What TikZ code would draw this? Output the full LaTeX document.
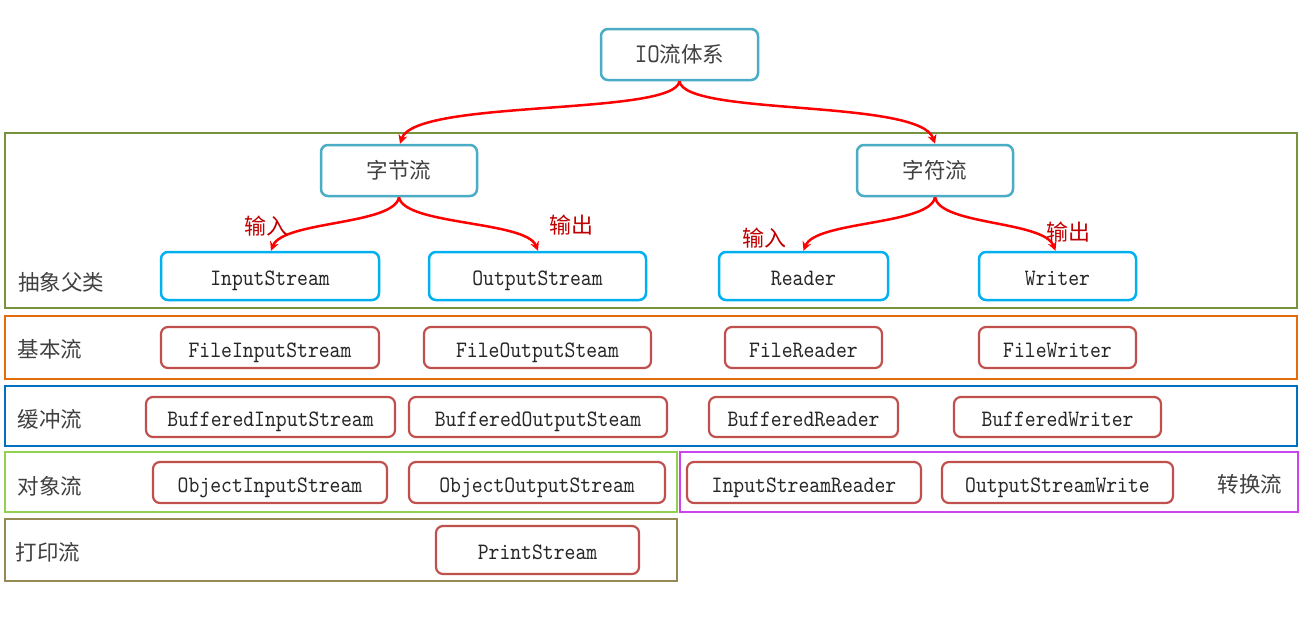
\documentclass[tikz,border=0pt]{standalone}
\usepackage{fontspec}
\setmonofont[FakeStretch=0.88]{lmmono10-regular.otf}
\newfontfamily\cjk{Noto Sans CJK SC}
\usetikzlibrary{arrows.meta}
\definecolor{teal}{HTML}{4BACC6}
\definecolor{cyanb}{HTML}{00B0F0}
\definecolor{redb}{HTML}{C0504D}
\definecolor{fgreen}{HTML}{77933C}
\definecolor{forange}{HTML}{E46C0A}
\definecolor{fblue}{HTML}{0070C0}
\definecolor{flgreen}{HTML}{92D050}
\definecolor{fpurple}{HTML}{CC44EE}
\definecolor{folive}{HTML}{948A54}
\definecolor{lblred}{HTML}{C00000}
\definecolor{txtgray}{HTML}{404040}
\tikzset{
  box/.style={draw, rounded corners=7pt, line width=2.5pt, inner sep=0pt, fill=white,
    text height=19pt, text depth=0pt, text=black!85,
    font=\ttfamily\fontsize{23.5}{26}\selectfont},
  topbox/.style={draw=teal, rounded corners=7pt, line width=2.5pt, inner sep=0pt, fill=white,
    font=\cjk\fontsize{21.5}{24}\selectfont, text=txtgray},
  absbox/.style={box, draw=cyanb, minimum height=48pt},
  impbox/.style={box, draw=redb, line width=2.2pt},
  frame/.style={line width=2.5pt},
  catlbl/.style={font=\cjk\fontsize{21.5}{24}\selectfont, text=txtgray, inner sep=0pt},
  arrlbl/.style={font=\cjk\fontsize{22}{24}\selectfont, text=lblred, inner sep=0pt},
  arr/.style={draw=red, line width=2.5pt, -{Stealth[length=9pt,width=9pt]}}
}
\begin{document}
\begin{tikzpicture}[x=1pt,y=-1pt]
\fill[white] (0,0) rectangle (1307,640);
\useasboundingbox (0,0) rectangle (1307,640);
% frames
\draw[frame, fgreen] (5,133) rectangle (1297,308);
\draw[frame, forange] (5,316) rectangle (1297,379);
\draw[frame, fblue] (5,386) rectangle (1297,446);
\draw[frame, flgreen] (5,452) rectangle (677,512);
\draw[frame, fpurple] (680,452) rectangle (1298,512);
\draw[frame, folive] (5,519) rectangle (677,581);
% category labels
\node[catlbl] (c1) at (61,282) {抽象父类};
\node[catlbl] (c2) at (50,349) {基本流};
\node[catlbl] (c3) at (50,419) {缓冲流};
\node[catlbl] (c4) at (50,486) {对象流};
\node[catlbl] (c5) at (1250,484) {转换流};
\node[catlbl] (c6) at (48,552) {打印流};
% top nodes
\node[topbox, minimum width=157pt, minimum height=51pt] (io) at (679.5,54.5) {{\ttfamily\fontsize{27}{28}\selectfont IO}流体系};
\node[topbox, minimum width=156pt, minimum height=51pt] (zj) at (399,170.5) {字节流};
\node[topbox, minimum width=156pt, minimum height=51pt] (zf) at (935,170.5) {字符流};
% abstract
\node[absbox, minimum width=218pt] (is) at (270,276) {InputStream};
\node[absbox, minimum width=217pt] (os) at (537.5,276) {OutputStream};
\node[absbox, minimum width=169pt] (rd) at (803.5,276) {Reader};
\node[absbox, minimum width=157pt] (wr) at (1057.5,276) {Writer};
% basic
\node[impbox, minimum width=218pt, minimum height=41pt] (fis) at (270,347.5) {FileInputStream};
\node[impbox, minimum width=227pt, minimum height=41pt] (fos) at (537.5,347.5) {FileOutputSteam};
\node[impbox, minimum width=157pt, minimum height=41pt] (fr) at (803.5,347.5) {FileReader};
\node[impbox, minimum width=157pt, minimum height=41pt] (fw) at (1057.5,347.5) {FileWriter};
% buffered
\node[impbox, minimum width=249pt, minimum height=40pt] (bis) at (270.5,417) {BufferedInputStream};
\node[impbox, minimum width=258pt, minimum height=40pt] (bos) at (538,417) {BufferedOutputSteam};
\node[impbox, minimum width=189pt, minimum height=40pt] (br) at (803.5,417) {BufferedReader};
\node[impbox, minimum width=207pt, minimum height=40pt] (bw) at (1057.5,417) {BufferedWriter};
% object
\node[impbox, minimum width=234pt, minimum height=41pt] (ois) at (270,482.5) {ObjectInputStream};
\node[impbox, minimum width=256pt, minimum height=41pt] (oos) at (537,482.5) {ObjectOutputStream};
% conversion
\node[impbox, minimum width=234pt, minimum height=41pt] (isr) at (804,482.5) {InputStreamReader};
\node[impbox, minimum width=231pt, minimum height=41pt] (osw) at (1057.5,482.5) {OutputStreamWrite};
% print
\node[impbox, minimum width=203pt, minimum height=48pt] (ps) at (537.5,550) {PrintStream};
% arrows
\draw[arr] (io.south) .. controls +(-5,35) and +(15,-45) .. ([xshift=1pt]zj.north);
\draw[arr] (io.south) .. controls +(5,35) and +(-15,-45) .. (zf.north);
\draw[arr] (zj.south) .. controls +(-5,28) and +(12,-30) .. ([xshift=1pt]is.north);
\draw[arr] (zj.south) .. controls +(5,28) and +(-12,-30) .. ([xshift=0.5pt]os.north);
\draw[arr] (zf.south) .. controls +(-5,28) and +(12,-30) .. (rd.north);
\draw[arr] (zf.south) .. controls +(5,28) and +(-12,-30) .. ([xshift=-2pt]wr.north);
% arrow labels
\node[arrlbl] (l1) at (266,226) {输入};
\node[arrlbl] (l2) at (571,225) {输出};
\node[arrlbl] (l3) at (764,238) {输入};
\node[arrlbl] (l4) at (1068,232) {输出};
\end{tikzpicture}
\end{document}
